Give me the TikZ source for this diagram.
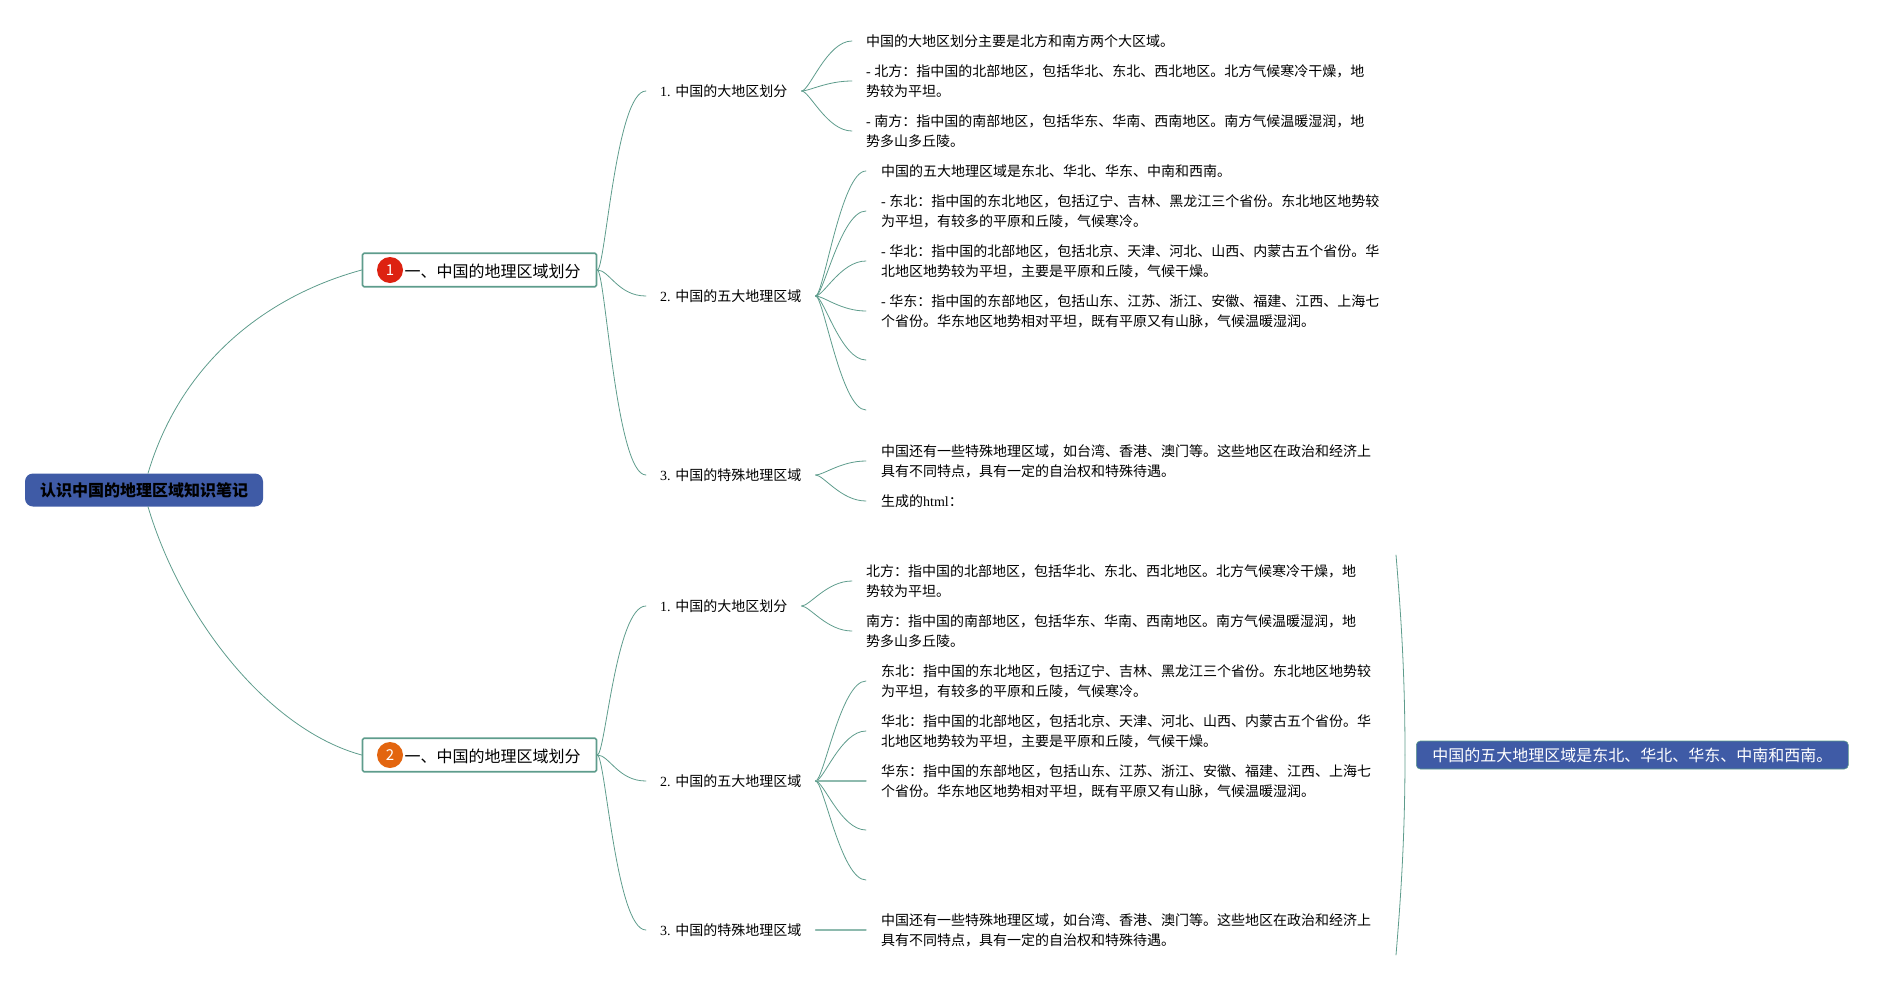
\documentclass[tikz,border=0pt]{standalone}
\usepackage{fontspec}
\setmainfont{Noto Sans CJK SC}
\newfontfamily\latinfont{Liberation Serif}
\newcommand{\lat}[1]{{\latinfont #1}}
\definecolor{linecol}{HTML}{5E9C8C}
\definecolor{rootcol}{HTML}{3F5BA6}
\definecolor{badgered}{HTML}{DD2211}
\definecolor{badgeorange}{HTML}{E3650F}
\tikzset{
	rootnode/.style={fill=rootcol,rounded corners=8pt,minimum width=238pt,minimum height=33pt,inner sep=0pt,font=\fontsize{16}{19}\selectfont\bfseries},
	mainnode/.style={draw=linecol,line width=1.6pt,fill=white,rounded corners=1.5pt,minimum width=231.5pt,minimum height=33.5pt,inner xsep=16pt,inner ysep=0pt,text height=15pt,text depth=1pt,font=\fontsize{16}{19}\selectfont},
	badge/.style={circle,minimum size=26pt,inner sep=0pt,text=white,font=\fontsize{15}{18}\selectfont},
	subnode/.style={anchor=west,inner xsep=14pt,inner ysep=2pt,font=\fontsize{14}{19.5}\selectfont},
	leafa/.style={anchor=west,align=left,inner xsep=14pt,inner ysep=0pt,font=\fontsize{14}{19.8}\selectfont},
	leafb/.style={leafa,inner xsep=15pt},
	link/.style={linecol,line width=.8pt},
	flat/.style={linecol!70,line width=1.3pt},
	sidenode/.style={draw=linecol,line width=.6pt,fill=rootcol,rounded corners=4pt,minimum width=430pt,minimum height=28pt,inner xsep=16pt,inner ysep=0pt,text=white,font=\fontsize{16}{19}\selectfont}
}
\begin{document}
\begin{tikzpicture}[x=1pt,y=-1pt,line join=round,line cap=round]
	\useasboundingbox (0,0) rectangle (1892,980);
	\node[rootnode] (root) at (144,490) {认识中国的地理区域知识笔记};
	\node[mainnode] (main1) at (479.5,270) {\hspace{26pt}一、中国的地理区域划分};
	\node[mainnode] (main2) at (479.5,755) {\hspace{26pt}一、中国的地理区域划分};
	\node[badge,fill=badgered] (badge1) at (390,270) {1};
	\node[badge,fill=badgeorange] (badge2) at (390,755) {2};
	\draw[link] ([xshift=4pt]root.north) .. controls +(34,-114) and +(-92,25) .. (main1.west);
	\draw[link] ([xshift=4pt]root.south) .. controls +(34,114) and +(-92,-25) .. (main2.west);

	\node[subnode] (a1) at (646,91) {\lat{1. }中国的大地区划分};
	\node[subnode] (a2) at (646,296) {\lat{2. }中国的五大地理区域};
	\node[subnode] (a3) at (646,475) {\lat{3. }中国的特殊地理区域};
	\draw[link] (main1.east) .. controls +(8,0) and +(-30,0) .. (a1.west);
	\draw[link] (main1.east) .. controls +(12,0) and +(-28,0) .. (a2.west);
	\draw[link] (main1.east) .. controls +(8,0) and +(-30,0) .. (a3.west);

	\node[leafa] (a11) at (852,41) {中国的大地区划分主要是北方和南方两个大区域。};
	\node[leafa] (a12) at (852,81) {\lat{- }北方：指中国的北部地区，包括华北、东北、西北地区。北方气候寒冷干燥，地\\势较为平坦。};
	\node[leafa] (a13) at (852,131) {\lat{- }南方：指中国的南部地区，包括华东、华南、西南地区。南方气候温暖湿润，地\\势多山多丘陵。};
	\draw[link] (a1.east) .. controls +(8,0) and +(-25,0) .. (a11.west);
	\draw[link] (a1.east) .. controls +(8,0) and +(-25,0) .. (a12.west);
	\draw[link] (a1.east) .. controls +(8,0) and +(-25,0) .. (a13.west);

	\node[leafb] (a21) at (866,171) {中国的五大地理区域是东北、华北、华东、中南和西南。};
	\node[leafb] (a22) at (866,211) {\lat{- }东北：指中国的东北地区，包括辽宁、吉林、黑龙江三个省份。东北地区地势较\\为平坦，有较多的平原和丘陵，气候寒冷。};
	\node[leafb] (a23) at (866,261) {\lat{- }华北：指中国的北部地区，包括北京、天津、河北、山西、内蒙古五个省份。华\\北地区地势较为平坦，主要是平原和丘陵，气候干燥。};
	\node[leafb] (a24) at (866,311) {\lat{- }华东：指中国的东部地区，包括山东、江苏、浙江、安徽、福建、江西、上海七\\个省份。华东地区地势相对平坦，既有平原又有山脉，气候温暖湿润。};
	\coordinate (a25) at (866,360);
	\coordinate (a26) at (866,410);
	\draw[link] (a2.east) .. controls +(8,0) and +(-25,0) .. (a21.west);
	\draw[link] (a2.east) .. controls +(8,0) and +(-25,0) .. (a22.west);
	\draw[link] (a2.east) .. controls +(8,0) and +(-25,0) .. (a23.west);
	\draw[link] (a2.east) .. controls +(8,0) and +(-25,0) .. (a24.west);
	\draw[link] (a2.east) .. controls +(8,0) and +(-25,0) .. (a25);
	\draw[link] (a2.east) .. controls +(8,0) and +(-25,0) .. (a26);

	\node[leafb] (a31) at (866,461) {中国还有一些特殊地理区域，如台湾、香港、澳门等。这些地区在政治和经济上\\具有不同特点，具有一定的自治权和特殊待遇。};
	\node[leafb] (a32) at (866,501) {生成的\lat{html}：};
	\draw[link] (a3.east) .. controls +(8,0) and +(-25,0) .. (a31.west);
	\draw[link] (a3.east) .. controls +(8,0) and +(-25,0) .. (a32.west);

	\node[subnode] (b1) at (646,606) {\lat{1. }中国的大地区划分};
	\node[subnode] (b2) at (646,781) {\lat{2. }中国的五大地理区域};
	\node[subnode] (b3) at (646,930) {\lat{3. }中国的特殊地理区域};
	\draw[link] (main2.east) .. controls +(8,0) and +(-30,0) .. (b1.west);
	\draw[link] (main2.east) .. controls +(12,0) and +(-28,0) .. (b2.west);
	\draw[link] (main2.east) .. controls +(8,0) and +(-30,0) .. (b3.west);

	\node[leafa] (b11) at (852,581) {北方：指中国的北部地区，包括华北、东北、西北地区。北方气候寒冷干燥，地\\势较为平坦。};
	\node[leafa] (b12) at (852,631) {南方：指中国的南部地区，包括华东、华南、西南地区。南方气候温暖湿润，地\\势多山多丘陵。};
	\draw[link] (b1.east) .. controls +(8,0) and +(-25,0) .. (b11.west);
	\draw[link] (b1.east) .. controls +(8,0) and +(-25,0) .. (b12.west);

	\node[leafb] (b21) at (866,681) {东北：指中国的东北地区，包括辽宁、吉林、黑龙江三个省份。东北地区地势较\\为平坦，有较多的平原和丘陵，气候寒冷。};
	\node[leafb] (b22) at (866,731) {华北：指中国的北部地区，包括北京、天津、河北、山西、内蒙古五个省份。华\\北地区地势较为平坦，主要是平原和丘陵，气候干燥。};
	\node[leafb] (b23) at (866,781) {华东：指中国的东部地区，包括山东、江苏、浙江、安徽、福建、江西、上海七\\个省份。华东地区地势相对平坦，既有平原又有山脉，气候温暖湿润。};
	\coordinate (b24) at (866,830);
	\coordinate (b25) at (866,880);
	\draw[link] (b2.east) .. controls +(8,0) and +(-25,0) .. (b21.west);
	\draw[link] (b2.east) .. controls +(8,0) and +(-25,0) .. (b22.west);
	\draw[flat] (b2.east)--(b23.west);
	\draw[link] (b2.east) .. controls +(8,0) and +(-25,0) .. (b24);
	\draw[link] (b2.east) .. controls +(8,0) and +(-25,0) .. (b25);

	\node[leafb] (b31) at (866,930) {中国还有一些特殊地理区域，如台湾、香港、澳门等。这些地区在政治和经济上\\具有不同特点，具有一定的自治权和特殊待遇。};
	\draw[flat] (b3.east)--(b31.west);

	\node[sidenode,anchor=west] (side) at (1416,755) {中国的五大地理区域是东北、华北、华东、中南和西南。};
	\coordinate (spine) at ([xshift=-11pt]side.west);
	\coordinate (sidetop) at (1396,555);
	\coordinate (sidebot) at (1396,955);
	\draw[link] (spine) .. controls +(0,-80) and +(5,60) .. (sidetop);
	\draw[link] (spine) .. controls +(0,80) and +(5,-60) .. (sidebot);
\end{tikzpicture}
\end{document}
